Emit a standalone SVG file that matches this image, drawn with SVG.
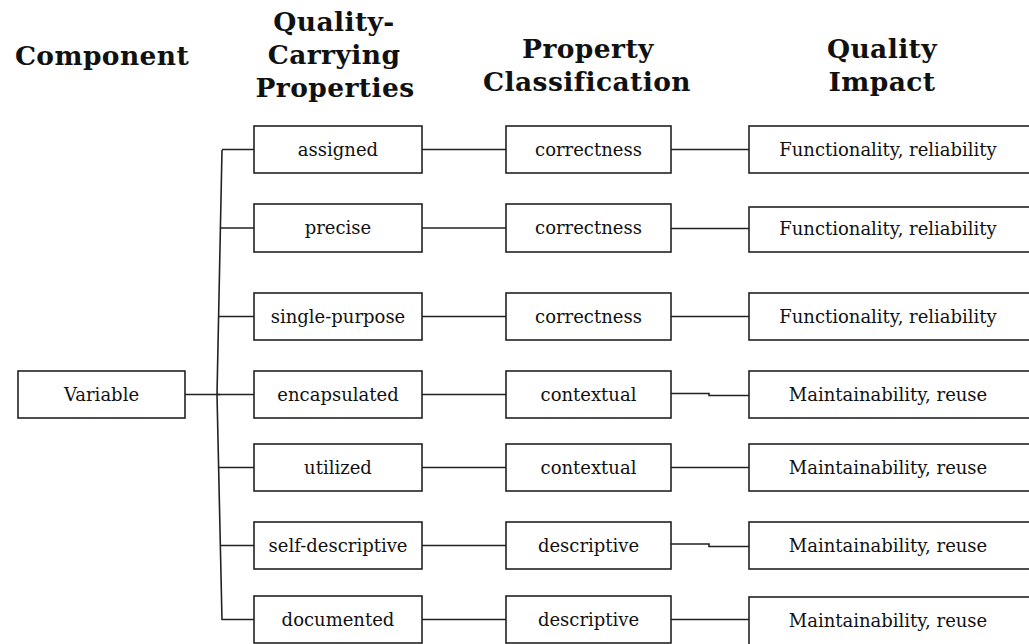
<svg xmlns="http://www.w3.org/2000/svg" width="1029" height="644" viewBox="0 0 1029 644">
<style>
.box{fill:#fff;stroke:#222;stroke-width:1.6}
.t{font-family:"DejaVu Serif","Liberation Serif",serif;font-size:18px;fill:#111;text-anchor:middle}
.h{font-family:"DejaVu Serif","Liberation Serif",serif;font-size:26.5px;font-weight:bold;fill:#111;text-anchor:middle;letter-spacing:0.4px}
.c{fill:none;stroke:#222;stroke-width:1.6}
</style>
<rect width="1029" height="644" fill="#fff"/>
<g id="headers">
<text class="h" x="102" y="65">Component</text>
<text class="h" x="334" y="31">Quality-</text>
<text class="h" x="334" y="64">Carrying</text>
<text class="h" x="335" y="97">Properties</text>
<text class="h" x="588" y="58">Property</text>
<text class="h" x="587" y="91">Classification</text>
<text class="h" x="882" y="58">Quality</text>
<text class="h" x="882" y="91">Impact</text>
</g>
<g id="connectors">
<path class="c" d="M222,150 L217,394.5 L222,620"/>
<path class="c" d="M185,394.5 H220"/>
<path class="c" d="M222,149.5 H254 M221,228 H254 M219,316.5 H254 M217,394.5 H254 M219,467.5 H254 M221,545.5 H254 M222,619.5 H254"/>
<path class="c" d="M422,149.5 H506 M422,228 H506 M422,316.5 H506 M422,394.5 H506 M422,467.5 H506 M422,545.5 H506 M422,619.5 H506"/>
<path class="c" d="M671,149.5 H749 M671,228.5 H749 M671,316.5 H749 M671,393.5 H709 V395.5 H749 M671,467.5 H749 M671,544 H709 V546.5 H749 M671,619.5 H749"/>
</g>
<g id="n-variable"><rect class="box" x="18" y="371" width="167" height="47"/><text class="t" x="101.5" y="401">Variable</text></g>
<g id="p-assigned"><rect class="box" x="254" y="126" width="168" height="47"/><text class="t" x="338" y="156">assigned</text></g>
<g id="p-precise"><rect class="box" x="254" y="204" width="168" height="48"/><text class="t" x="338" y="234">precise</text></g>
<g id="p-single"><rect class="box" x="254" y="293" width="168" height="47"/><text class="t" x="338" y="323">single-purpose</text></g>
<g id="p-encap"><rect class="box" x="254" y="371" width="168" height="47"/><text class="t" x="338" y="401">encapsulated</text></g>
<g id="p-utilized"><rect class="box" x="254" y="444" width="168" height="47"/><text class="t" x="338" y="474">utilized</text></g>
<g id="p-selfdesc"><rect class="box" x="254" y="522" width="168" height="47"/><text class="t" x="338" y="552">self-descriptive</text></g>
<g id="p-documented"><rect class="box" x="254" y="596" width="168" height="47"/><text class="t" x="338" y="626">documented</text></g>
<g id="c1"><rect class="box" x="506" y="126" width="165" height="47"/><text class="t" x="588.5" y="156">correctness</text></g>
<g id="c2"><rect class="box" x="506" y="204" width="165" height="48"/><text class="t" x="588.5" y="234">correctness</text></g>
<g id="c3"><rect class="box" x="506" y="293" width="165" height="47"/><text class="t" x="588.5" y="323">correctness</text></g>
<g id="c4"><rect class="box" x="506" y="371" width="165" height="47"/><text class="t" x="588.5" y="401">contextual</text></g>
<g id="c5"><rect class="box" x="506" y="444" width="165" height="47"/><text class="t" x="588.5" y="474">contextual</text></g>
<g id="c6"><rect class="box" x="506" y="522" width="165" height="47"/><text class="t" x="588.5" y="552">descriptive</text></g>
<g id="c7"><rect class="box" x="506" y="596" width="165" height="47"/><text class="t" x="588.5" y="626">descriptive</text></g>
<g id="i1"><rect class="box" x="749" y="126" width="300" height="47"/><text class="t" x="888" y="156">Functionality, reliability</text></g>
<g id="i2"><rect class="box" x="749" y="207" width="300" height="45"/><text class="t" x="888" y="235">Functionality, reliability</text></g>
<g id="i3"><rect class="box" x="749" y="293" width="300" height="47"/><text class="t" x="888" y="323">Functionality, reliability</text></g>
<g id="i4"><rect class="box" x="749" y="371" width="300" height="47"/><text class="t" x="888" y="401">Maintainability, reuse</text></g>
<g id="i5"><rect class="box" x="749" y="444" width="300" height="47"/><text class="t" x="888" y="474">Maintainability, reuse</text></g>
<g id="i6"><rect class="box" x="749" y="522" width="300" height="47"/><text class="t" x="888" y="552">Maintainability, reuse</text></g>
<g id="i7"><rect class="box" x="749" y="597" width="300" height="50"/><text class="t" x="888" y="627">Maintainability, reuse</text></g>
</svg>
